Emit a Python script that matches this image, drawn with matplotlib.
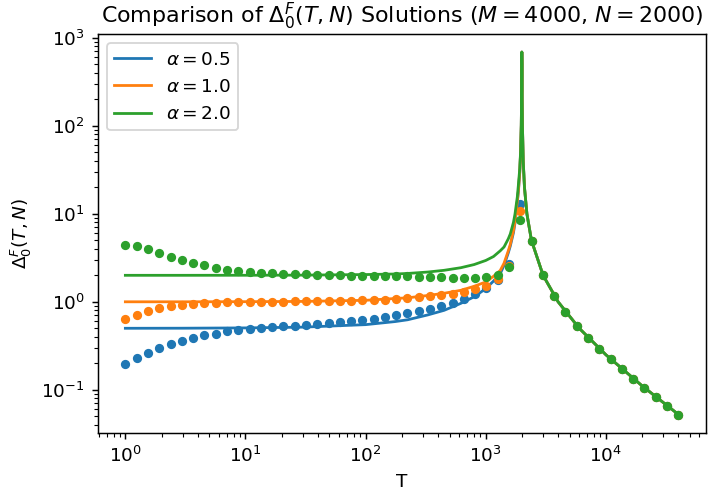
import matplotlib
matplotlib.use("Agg")
import matplotlib.pyplot as plt

# sample points of T (log-spaced, 1 .. 4e4)
T_pts = [1.0, 1.242, 1.542, 1.914, 2.377, 2.951, 3.664, 4.549, 5.648, 7.012,
         8.707, 10.81, 13.42, 16.67, 20.69, 25.69, 31.90, 39.60, 49.17, 61.05,
         75.80, 94.12, 116.9, 144.6, 179.5, 222.9, 276.7, 343.6, 426.6, 529.7,
         657.7, 816.5, 1013, 1257, 1561, 1938, 2407, 2988, 3710, 4606,
         5719, 7101, 8816, 10946, 13590, 16874, 20951, 26012, 32297, 40000]

# tail above T = N, identical for every alpha
tail_pts = [4.94, 2.03, 1.16, 0.760, 0.533, 0.391, 0.292, 0.221, 0.171, 0.133,
            0.104, 0.0826, 0.0655, 0.0518]

pts_a05 = [0.197, 0.229, 0.262, 0.296, 0.328, 0.358, 0.387, 0.414, 0.436, 0.460,
           0.476, 0.493, 0.506, 0.519, 0.525, 0.537, 0.547, 0.561, 0.575, 0.591,
           0.607, 0.622, 0.644, 0.667, 0.705, 0.740, 0.780, 0.830, 0.900, 0.980,
           1.09, 1.22, 1.42, 1.79, 2.66, 13.0] + tail_pts
pts_a10 = [0.634, 0.714, 0.779, 0.842, 0.887, 0.918, 0.942, 0.958, 0.975, 0.984,
           0.992, 1.00, 1.00, 1.00, 1.00, 1.01, 1.01, 1.01, 1.02, 1.02,
           1.03, 1.035, 1.045, 1.05, 1.08, 1.11, 1.14, 1.16, 1.19, 1.24,
           1.29, 1.38, 1.53, 1.80, 2.55, 10.9] + tail_pts
pts_a20 = [4.42, 4.27, 3.98, 3.56, 3.24, 3.00, 2.78, 2.59, 2.44, 2.31,
           2.23, 2.17, 2.14, 2.12, 2.08, 2.07, 2.05, 2.03, 2.02, 2.00,
           1.98, 1.98, 1.97, 1.97, 1.96, 1.95, 1.93, 1.92, 1.90, 1.88,
           1.87, 1.88, 1.91, 2.03, 2.46, 8.50] + tail_pts

# analytic curves on a finer T grid (left branch per alpha, shared right branch)
T_line = [1, 3, 10, 30, 100, 176, 224, 330, 450, 620, 800, 1000, 1160, 1320,
          1420, 1540, 1600, 1700, 1750, 1830, 1870, 1920, 1950, 1975, 1990, 1997,
          2004, 2010, 2020, 2050, 2100, 2200, 2400, 3000, 4000, 6000, 10000,
          20000, 40000]
tail_line = [500.0, 200.0, 100.0, 40.0, 20.0, 10.0, 5.0, 2.0, 1.0, 0.50, 0.25,
             0.111, 0.0526]
line_a05 = [0.50, 0.501, 0.505, 0.515, 0.55, 0.596, 0.625, 0.71, 0.80, 0.96,
            1.14, 1.41, 1.72, 2.09, 2.6, 3.6, 4.3, 6.1, 7.8, 13.5,
            18.0, 30.0, 50.0, 100.0, 250.0, 690.0] + tail_line
line_a10 = [1.00, 1.00, 1.003, 1.01, 1.04, 1.09, 1.11, 1.18, 1.25, 1.35,
            1.50, 1.68, 1.95, 2.27, 2.75, 3.8, 4.5, 6.4, 8.2, 13.9,
            18.5, 30.5, 51.0, 101.0, 252.0, 690.0] + tail_line
line_a20 = [2.00, 2.00, 2.003, 2.01, 2.04, 2.07, 2.10, 2.18, 2.28, 2.44,
            2.65, 2.95, 3.27, 3.8, 4.2, 5.2, 5.9, 8.0, 9.9, 15.5,
            21.5, 33.0, 52.0, 103.0, 255.0, 690.0] + tail_line

alphas = [0.5, 1.0, 2.0]
colors = ["tab:blue", "tab:orange", "tab:green"]

dpi = 133
fig = plt.figure(figsize=(708 / dpi, 491 / dpi), dpi=dpi)
ax = fig.add_axes([0.138, 0.118, 0.859, 0.813])

for a, c, ln, pt in zip(alphas, colors, [line_a05, line_a10, line_a20],
                        [pts_a05, pts_a10, pts_a20]):
    ax.plot(T_line, ln, color=c, lw=1.5, label=rf"$\alpha = {a}$")
    ax.plot(T_pts, pt, "o", color=c, ms=4)

ax.set_xscale("log")
ax.set_yscale("log")
ax.set_xlabel("T")
ax.set_ylabel(r"$\Delta_0^F(T, N)$")
ax.set_title(r"Comparison of $\Delta_0^F(T, N)$ Solutions ($M = 4000$, $N = 2000$)")
ax.legend(loc="upper left")

fig.savefig("out.png", dpi=dpi)
